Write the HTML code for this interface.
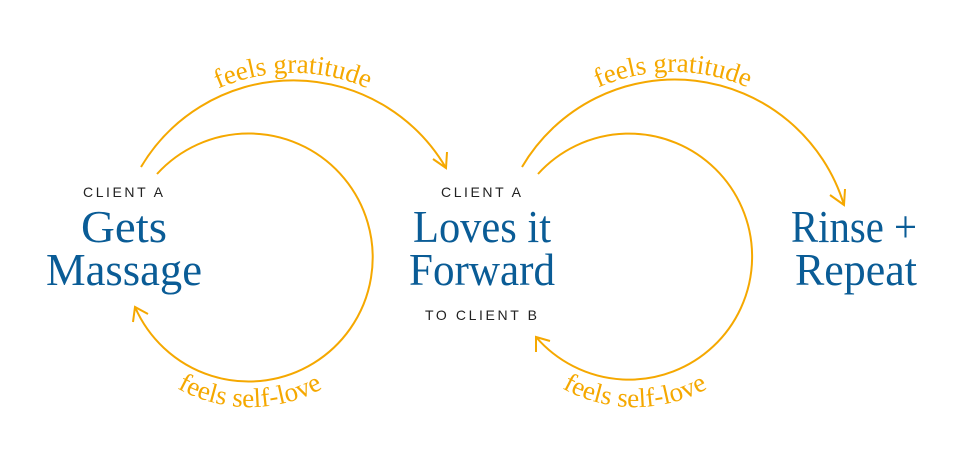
<!DOCTYPE html>
<html><head><meta charset="utf-8"><style>
html,body{margin:0;padding:0;background:#fff;}
svg{display:block}
.cap{font-family:"Liberation Sans",sans-serif;font-size:14px;letter-spacing:2px;fill:#222;}
.big{font-family:"Liberation Serif",serif;font-size:46px;fill:#0a5c96;}
.lbl{font-family:"Liberation Serif",serif;font-size:27px;fill:#f5a800;}
</style></head><body>
<svg width="980" height="458" viewBox="0 0 980 458" xmlns="http://www.w3.org/2000/svg">
<defs>
<path id="g1" d="M119,195 A185,185 0 0 1 467,195"/>
<path id="s1" d="M120,332 A150,150 0 0 0 380,332"/>
<path id="g2" d="M499,194 A185,185 0 0 1 847,194"/>
<path id="s2" d="M505,332 A150,150 0 0 0 765,332"/>
</defs>
<g fill="none" stroke="#f5a800" stroke-width="2">
<path d="M141,167 A177,177 0 0 1 446,168"/>
<path d="M433,159 L446,168 L447,152"/>
<path d="M157,174 A124,124 0 1 1 135,307"/>
<path d="M133,322 L135,307 L148,314"/>
<path d="M522,167 A177,177 0 0 1 844,205"/>
<path d="M830,195 L844,205 L845,189"/>
<path d="M538,174 A123,123 0 1 1 536,337"/>
<path d="M536,352 L536,337 L550,341"/>
</g>
<text class="lbl"><textPath href="#g1" startOffset="50%" text-anchor="middle">feels gratitude</textPath></text>
<text class="lbl"><textPath href="#s1" startOffset="50%" text-anchor="middle">feels self-love</textPath></text>
<text class="lbl"><textPath href="#g2" startOffset="50%" text-anchor="middle">feels gratitude</textPath></text>
<text class="lbl"><textPath href="#s2" startOffset="50%" text-anchor="middle">feels self-love</textPath></text>
<text class="cap" x="124" y="197" text-anchor="middle" textLength="82">CLIENT A</text>
<text class="big" x="124" y="242" text-anchor="middle" textLength="86" lengthAdjust="spacingAndGlyphs">Gets</text>
<text class="big" x="124" y="285" text-anchor="middle" textLength="156" lengthAdjust="spacingAndGlyphs">Massage</text>
<text class="cap" x="482" y="197" text-anchor="middle" textLength="82">CLIENT A</text>
<text class="big" x="482" y="242" text-anchor="middle" textLength="138" lengthAdjust="spacingAndGlyphs">Loves it</text>
<text class="big" x="482" y="285" text-anchor="middle" textLength="146" lengthAdjust="spacingAndGlyphs">Forward</text>
<text class="cap" x="482" y="320" text-anchor="middle" textLength="114">TO CLIENT B</text>
<text class="big" x="854" y="242" text-anchor="middle" textLength="126" lengthAdjust="spacingAndGlyphs">Rinse +</text>
<text class="big" x="856" y="285" text-anchor="middle" textLength="122" lengthAdjust="spacingAndGlyphs">Repeat</text>
</svg>
</body></html>
